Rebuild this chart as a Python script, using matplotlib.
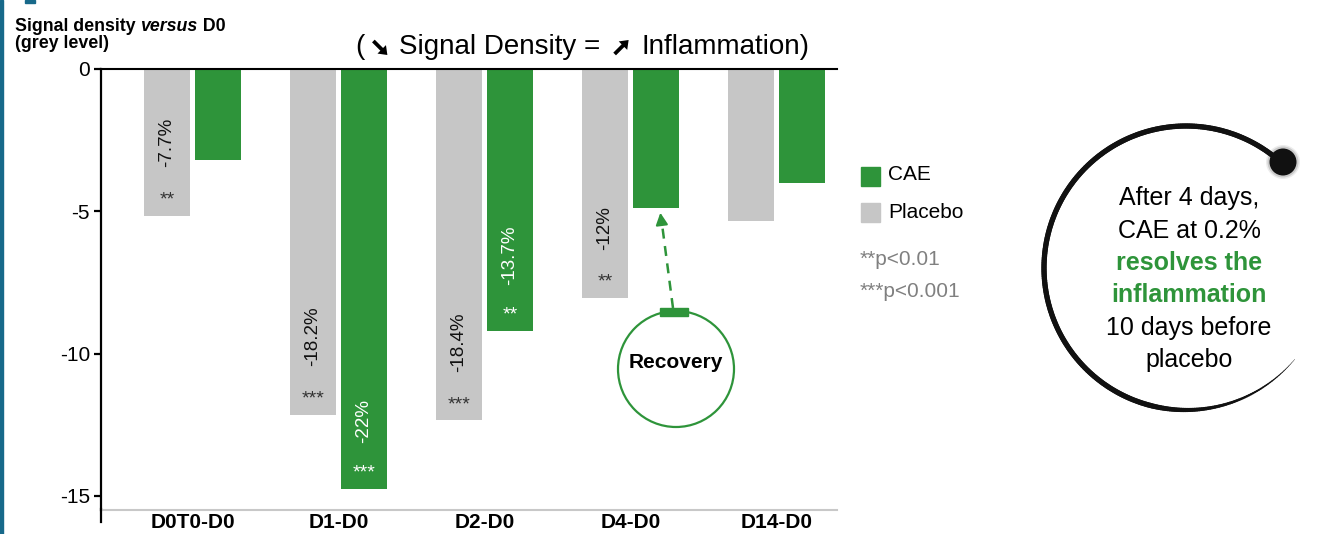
import numpy as np
import matplotlib
matplotlib.use('Agg')
import matplotlib.pyplot as plt
from matplotlib.patches import Rectangle, Circle, FancyArrow
from matplotlib.collections import LineCollection

plt.rcParams['font.family'] = ['Liberation Sans', 'DejaVu Sans']

# change of signal density vs D0 (grey level)
days = ['D0T0-D0', 'D1-D0', 'D2-D0', 'D4-D0', 'D14-D0']
placebo = [-5.15, -12.15, -12.35, -8.05, -5.35]
cae = [-3.2, -14.75, -9.2, -4.9, -4.0]
placebo_pct = ['-7.7%', '-18.2%', '-18.4%', '-12%', '']
cae_pct = ['', '-22%', '-13.7%', '', '']
placebo_sig = ['**', '***', '***', '**', '']
cae_sig = ['', '***', '**', '', '']
yticks = [0, -5, -10, -15]

green = '#2e943a'
grey = '#c6c6c6'
teal = '#17698a'

W, H = 1341, 534
fig = plt.figure(figsize=(W / 100, H / 100), dpi=100)
ax = fig.add_axes([101 / W, 1 - 510 / H, 736 / W, 441 / H])

x = np.arange(len(days))
bw = 0.315
off = 0.175
ax.bar(x - off, placebo, bw, color=grey, zorder=2)
ax.bar(x + off, cae, bw, color=green, zorder=2)
ax.set_xlim(-0.627, 4.414)
ax.set_ylim(-15.5, 0)
ax.set_yticks(yticks)
ax.set_yticklabels([str(v) for v in yticks], fontsize=15)
ax.tick_params(axis='y', length=5, width=1.6, pad=3)
ax.set_xticks(x)
ax.set_xticklabels(days, fontsize=15, fontweight='bold')
ax.tick_params(axis='x', length=0, pad=2)
ax.spines['right'].set_visible(False)
ax.spines['top'].set_color('black')
ax.spines['top'].set_linewidth(1.5)
ax.spines['left'].set_linewidth(1.6)
ax.spines['bottom'].set_color('#c8c8c8')
ax.spines['bottom'].set_linewidth(1.5)

# percentages and significance stars inside the bars
for i in range(len(days)):
    if placebo_pct[i]:
        ax.text(x[i] - off, placebo[i] + 1.7, placebo_pct[i], rotation=90,
                ha='center', va='bottom', fontsize=13.5, color='#111111', zorder=3)
    if placebo_sig[i]:
        ax.text(x[i] - off, placebo[i] + 0.4, placebo_sig[i], ha='center',
                va='baseline', fontsize=14, color='#333333', zorder=3)
    if cae_pct[i]:
        ax.text(x[i] + off, cae[i] + 1.6, cae_pct[i], rotation=90,
                ha='center', va='bottom', fontsize=13.5, color='white', zorder=3)
    if cae_sig[i]:
        ax.text(x[i] + off, cae[i] + 0.4, cae_sig[i], ha='center',
                va='baseline', fontsize=14, color='white', zorder=3)

# overlay in pixel units for the annotations around the plot
ov = fig.add_axes([0, 0, 1, 1])
ov.set_xlim(0, W)
ov.set_ylim(H, 0)
ov.axis('off')
ov.patch.set_alpha(0)

ov.add_patch(Rectangle((0, 0), 3, H, color=teal))
ov.add_patch(Rectangle((25, 0), 10, 3, color=teal))
ov.plot([101, 101], [509, 522], color='black', lw=1.6)

fig.canvas.draw()
r = fig.canvas.get_renderer()


def right_edge(t):
    # x of the right end of a drawn text, in overlay pixels
    return t.get_window_extent(r).x1


# axis title with italic "versus"
t1 = ov.text(15, 31, 'Signal density ', fontsize=12.8, fontweight='bold', va='baseline')
t2 = ov.text(right_edge(t1), 31, 'versus', fontsize=12.8, fontweight='bold',
             style='italic', va='baseline')
ov.text(right_edge(t2), 31, ' D0', fontsize=12.8, fontweight='bold', va='baseline')
ov.text(15, 48, '(grey level)', fontsize=12.8, fontweight='bold', va='baseline')

# header: ( [down arrow] Signal Density = [up arrow] Inflammation)
arrow_kw = dict(width=3.8, head_width=12, head_length=8, length_includes_head=True,
                color='black', lw=0)
ta = ov.text(355, 54, '(', fontsize=20, va='baseline')
a0 = right_edge(ta) + 8
ov.add_patch(FancyArrow(a0 + 1, 41, 14, 14, **arrow_kw))
tb = ov.text(a0 + 27, 54, 'Signal Density =', fontsize=20, va='baseline')
a1 = right_edge(tb) + 13
ov.add_patch(FancyArrow(a1 + 1, 54, 14, -14, **arrow_kw))
ov.text(a1 + 28, 54, 'Inflammation)', fontsize=20, va='baseline')

# legend
ov.add_patch(Rectangle((861, 167), 19, 19, color=green))
ov.text(888, 180.5, 'CAE', fontsize=15, va='baseline')
ov.add_patch(Rectangle((861, 203), 19, 19, color=grey))
ov.text(888, 217.5, 'Placebo', fontsize=15, va='baseline')
ov.text(860, 265, '**p<0.01', fontsize=15, va='baseline', color='#808080')
ov.text(860, 297, '***p<0.001', fontsize=15, va='baseline', color='#808080')

# recovery callout
ov.add_patch(Circle((676, 369), 58, fill=False, ec=green, lw=1.6))
ov.add_patch(Rectangle((660, 308), 28, 8, color=green))
ov.plot([673, 662], [308, 224], color=green, lw=1.8, ls=(0, (4, 3)))
ov.annotate('', xy=(660, 210), xytext=(662, 226),
            arrowprops=dict(arrowstyle='-|>', color=green, lw=1.5, mutation_scale=18))
ov.text(676, 363, 'Recovery', fontsize=15, fontweight='bold', ha='center', va='center')

# big ring with tapered end
cx, cy, rad = 1186, 268, 142
th = np.radians(np.linspace(47.5, 320, 300))
px = cx + rad * np.cos(th)
py = cy - rad * np.sin(th)
pts = np.column_stack([px, py]).reshape(-1, 1, 2)
segs = np.concatenate([pts[:-1], pts[1:]], axis=1)
deg = np.degrees(th[:-1])
lws = np.where(deg < 255, 3.8, 3.8 - (deg - 255) / (320 - 255) * 3.6)
ov.add_collection(LineCollection(segs, linewidths=lws, colors='#111111', capstyle='round'))
for rr, a in [(17, 0.08), (15.5, 0.15)]:
    ov.add_patch(Circle((1283, 162), rr, color='#111111', alpha=a, lw=0))
ov.add_patch(Circle((1283, 162), 13.5, color='#111111', lw=0))

lines = [('After 4 days,', 'black', 'normal'),
         ('CAE at 0.2%', 'black', 'normal'),
         ('resolves the', green, 'bold'),
         ('inflammation', green, 'bold'),
         ('10 days before', 'black', 'normal'),
         ('placebo', 'black', 'normal')]
for k, (s, c, w) in enumerate(lines):
    ov.text(1189, 198 + 32.5 * k, s, fontsize=18, color=c, fontweight=w,
            ha='center', va='center')

fig.savefig('out.png', dpi=100)
